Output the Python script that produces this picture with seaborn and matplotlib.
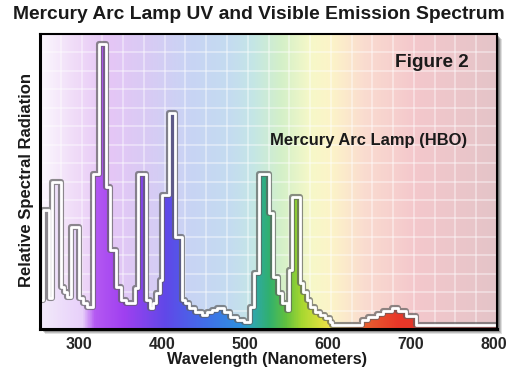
import numpy as np
import matplotlib
matplotlib.use("Agg")
import matplotlib.pyplot as plt
import matplotlib.patches as patches
import matplotlib.patheffects as pe
import matplotlib.transforms as mtransforms
from matplotlib.colors import LinearSegmentedColormap
import seaborn as sns

# step curve (start of each step, relative value)
wavelength = [250, 254, 261, 265, 275, 279, 283, 287, 297, 302, 306, 314, 321, 330,
              334, 341, 347, 354, 364, 368, 378, 382, 386, 390, 394, 397, 405, 413,
              421, 425, 429, 437, 445, 451, 457, 463, 471, 479, 487, 495, 503, 507,
              514, 525, 531, 537, 541, 547, 550, 553, 563, 567, 571, 575, 581, 587,
              593, 599, 601, 637, 645, 656, 663, 674, 681, 690, 702, 800]
radiation = [0.40, 1.61, 0.42, 2.00, 0.57, 0.50, 0.43, 1.38, 0.42, 0.35, 0.30, 2.10, 3.86, 1.93,
             1.07, 0.57, 0.39, 0.35, 0.55, 2.10, 0.39, 0.28, 0.35, 0.49, 0.66, 1.82, 2.93, 1.25,
             0.39, 0.35, 0.28, 0.23, 0.19, 0.23, 0.26, 0.28, 0.23, 0.16, 0.12, 0.10, 0.30, 0.76,
             2.10, 1.57, 0.70, 0.49, 0.35, 0.26, 0.80, 1.79, 0.62, 0.50, 0.39, 0.30, 0.23, 0.19,
             0.15, 0.10, 0.05, 0.12, 0.16, 0.20, 0.24, 0.28, 0.24, 0.17, 0.05, 0.05]
x_ticks = [300, 400, 500, 600, 700, 800]

# colour stops for the background and the fill
bg_stops = [(250, "#fbf7fd"), (290, "#f0dcf8"), (330, "#e6c6f6"), (380, "#d8cbf4"),
            (430, "#c8d4f4"), (480, "#c4dcf0"), (505, "#c4e6e6"), (540, "#d4f0c8"),
            (575, "#f6f8c8"), (600, "#fcf4c8"), (640, "#fadcd0"), (700, "#f4c8cc"),
            (800, "#e4c4c8")]
fill_stops = [(250, "#f2eafa"), (300, "#e8d0fa"), (315, "#b459f2"), (350, "#a040f0"),
              (400, "#6048e8"), (450, "#4070e8"), (490, "#3090e0"), (505, "#30a8b0"),
              (525, "#30b070"), (545, "#60c040"), (565, "#a8d830"), (590, "#e0e040"),
              (600, "#f0e050"), (640, "#e86030"), (680, "#e83828"), (800, "#d83030")]


def make_cmap(stops):
    return LinearSegmentedColormap.from_list(
        "c", [((w - 250) / 550, c) for w, c in stops])


sns.set_style("white")
plt.rcParams["font.family"] = ["Liberation Sans", "DejaVu Sans"]

fig = plt.figure(figsize=(5.09, 3.71), dpi=100)
L, B, W, H = 40 / 509, 42 / 371, 457 / 509, 295 / 371

# drop shadow behind the plot frame
for k, a in zip([5, 4, 3, 2], [0.12, 0.15, 0.2, 0.25]):
    fig.patches.append(patches.Rectangle((L + k / 509, B - k / 371), W, H,
                                         transform=fig.transFigure, color="black",
                                         alpha=a, zorder=-1, lw=0))

ax = fig.add_axes([L, B, W, H])
ax.set_zorder(2)
ax.set_xlim(250, 800)
ax.set_ylim(0, 4)

grad = np.linspace(0, 1, 1100)[np.newaxis, :]
ax.imshow(grad, extent=[250, 800, 0, 4], aspect="auto", cmap=make_cmap(bg_stops), zorder=0)

poly = ax.fill_between(wavelength, radiation, step="post", facecolor="none", lw=0)
fill_img = ax.imshow(grad, extent=[250, 800, 0, 4], aspect="auto",
                     cmap=make_cmap(fill_stops), zorder=2)
fill_img.set_clip_path(poly.get_paths()[0], transform=ax.transData)

sns.lineplot(x=wavelength, y=radiation, drawstyle="steps-post", color="white", lw=2.0,
             ax=ax, zorder=4,
             path_effects=[pe.Stroke(linewidth=4.4, foreground="#606060", alpha=0.7),
                           pe.Normal()])

ax.set_xticks(x_ticks)
ax.set_xticks(np.arange(250, 801, 25), minor=True)
ax.set_yticks([1, 2, 3])
ax.set_yticks(np.arange(0, 4.01, 0.25), minor=True)
ax.set_yticklabels([])
ax.grid(which="both", color="white", lw=1.1, alpha=0.5)
ax.set_axisbelow(True)
for g in ax.get_xgridlines() + ax.get_ygridlines():
    g.set_zorder(1)
ax.tick_params(which="minor", length=0)
ax.tick_params(axis="both", which="major", direction="in", length=6, width=2,
               color="black", labelsize=11.5, pad=6)
shift = mtransforms.ScaledTranslation(-3 / 100, 0, fig.dpi_scale_trans)
for lbl in ax.get_xticklabels():
    lbl.set_fontweight("bold")
    lbl.set_transform(lbl.get_transform() + shift)
for s in ax.spines.values():
    s.set_color("black")
    s.set_linewidth(1.5)
    s.set_zorder(6)
ax.spines["left"].set_linewidth(2.2)
ax.spines["bottom"].set_linewidth(2.2)

ax.text(766, 3.62, "Figure 2", ha="right", va="center", fontsize=13.7,
        fontweight="bold", color="#1a1a1a", zorder=5)
ax.text(764, 2.56, "Mercury Arc Lamp (HBO)", ha="right", va="center", fontsize=11.9,
        fontweight="bold", color="#1a1a1a", zorder=5)

fig.text(0.508, 0.962, "Mercury Arc Lamp UV and Visible Emission Spectrum", ha="center",
         va="center", fontsize=13.9, fontweight="bold", color="#1a1a1a")
fig.text(0.053, 0.515, "Relative Spectral Radiation", ha="center", va="center",
         rotation=90, fontsize=12, fontweight="bold", color="#1a1a1a")
fig.text(0.5255, 0.03, "Wavelength (Nanometers)", ha="center", va="center",
         fontsize=11.7, fontweight="bold", color="#1a1a1a")

fig.savefig("out.png", dpi=100)
